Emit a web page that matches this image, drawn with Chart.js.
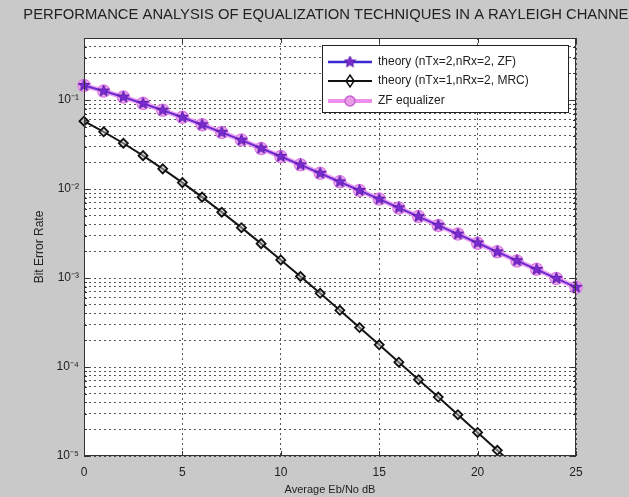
<!DOCTYPE html>
<html>
<head>
<meta charset="utf-8">
<script src="https://cdn.jsdelivr.net/npm/chart.js@4.4.1/dist/chart.umd.min.js"></script>
<style>
  html, body { margin: 0; padding: 0; background: #c9c9c9; }
  #wrap { width: 629px; height: 497px; }
</style>
</head>
<body>
<div id="wrap"><canvas id="chart1" width="629" height="497"></canvas></div>
<script>
// dados
const ebN0dB = [0, 1, 2, 3, 4, 5, 6, 7, 8, 9, 10, 11, 12, 13, 14, 15, 16, 17, 18, 19, 20, 21, 22, 23, 24, 25];
const berTheoryZF = [0.1464, 0.1267, 0.1085, 0.0919, 0.0771, 0.0642, 0.0530, 0.0435, 0.0355, 0.0288,
    0.0233, 0.01875, 0.01507, 0.01208, 0.00966, 0.00772, 0.00616, 0.00491, 0.00392, 0.00312,
    0.00248, 0.00197, 0.00157, 0.00125, 0.000992, 0.000788];
const berTheoryMRC = [0.0580, 0.0441, 0.0328, 0.0238, 0.0169, 0.01184, 0.00813, 0.00551, 0.00369, 0.00244,
    0.00160, 0.001042, 0.000674, 0.000434, 0.000278, 0.000178, 0.0001134, 0.0000721, 0.0000460, 0.0000291,
    0.0000184, 0.0000116, 0.0000074, 0.0000047, 0.0000030, 0.0000019];
const berSimZF = [0.1460, 0.1270, 0.1083, 0.0921, 0.0770, 0.0643, 0.0531, 0.0434, 0.0356, 0.0287,
    0.0233, 0.0188, 0.0151, 0.0121, 0.00965, 0.00775, 0.00614, 0.00493, 0.00391, 0.00313,
    0.00247, 0.00198, 0.00156, 0.00126, 0.00099, 0.00079];
const xTicks = [0, 5, 10, 15, 20, 25];
const yDecades = [-5, -4, -3, -2, -1];
const yMin = 1e-5;
const yMax = 0.5;
const legendLabels = ['theory (nTx=2,nRx=2, ZF)', 'theory (nTx=1,nRx=2, MRC)', 'ZF equalizer'];
const titleText = 'PERFORMANCE ANALYSIS OF EQUALIZATION TECHNIQUES IN A RAYLEIGH CHANNEL';

const sup = {'-': '\u207B', '0': '\u2070', '1': '\u00B9', '2': '\u00B2', '3': '\u00B3', '4': '\u2074', '5': '\u2075'};

// estrela (pentagrama) para o marcador
function makeStar(size, fill, stroke) {
    const c = document.createElement('canvas');
    c.width = size; c.height = size;
    const g = c.getContext('2d');
    const cx = size / 2, cy = size / 2, R = size / 2 - 0.5, r = R * 0.45;
    g.beginPath();
    for (let i = 0; i < 10; i++) {
        const a = -Math.PI / 2 + i * Math.PI / 5;
        const rad = i % 2 ? r : R;
        g.lineTo(cx + rad * Math.cos(a), cy + rad * Math.sin(a));
    }
    g.closePath();
    g.fillStyle = fill;
    g.fill();
    g.strokeStyle = stroke;
    g.lineWidth = 1;
    g.stroke();
    return c;
}
const star = makeStar(13, '#7a2bd0', '#5a1aa8');

function pts(ys) {
    return ebN0dB.map((x, i) => ({x: x, y: ys[i]}));
}

const moldura = {
    id: 'moldura',
    beforeDraw(chart) {
        const {ctx, chartArea: a} = chart;
        ctx.save();
        ctx.fillStyle = '#c9c9c9';
        ctx.fillRect(0, 0, chart.width, chart.height);
        ctx.fillStyle = '#ffffff';
        ctx.fillRect(a.left, a.top, a.right - a.left, a.bottom - a.top);
        ctx.restore();
    },
    afterDraw(chart) {
        const {ctx, chartArea: a} = chart;
        const xs = chart.scales.x, ys = chart.scales.y;
        ctx.save();
        // caixa
        ctx.strokeStyle = '#333';
        ctx.lineWidth = 1;
        ctx.strokeRect(a.left + 0.5, a.top + 0.5, a.right - a.left - 1, a.bottom - a.top - 1);
        // marcas internas
        ctx.beginPath();
        xTicks.forEach(v => {
            const px = Math.round(xs.getPixelForValue(v)) + 0.5;
            ctx.moveTo(px, a.bottom); ctx.lineTo(px, a.bottom - 5);
            ctx.moveTo(px, a.top); ctx.lineTo(px, a.top + 5);
        });
        ys.ticks.forEach(t => {
            const l = Math.log10(t.value);
            const len = Math.abs(l - Math.round(l)) < 1e-6 ? 5 : 3;
            const py = Math.round(ys.getPixelForValue(t.value)) + 0.5;
            ctx.moveTo(a.left, py); ctx.lineTo(a.left + len, py);
            ctx.moveTo(a.right, py); ctx.lineTo(a.right - len, py);
        });
        ctx.stroke();

        // titulo
        ctx.fillStyle = '#222';
        ctx.font = '14.8px "Liberation Sans", Arial, sans-serif';
        ctx.textAlign = 'center';
        ctx.textBaseline = 'middle';
        ctx.fillText(titleText, (a.left + a.right) / 2, 15);

        // legenda
        const bx = 322, by = 45, bw = 246, bh = 67;
        ctx.fillStyle = '#fff';
        ctx.fillRect(bx, by, bw, bh);
        ctx.strokeStyle = '#222';
        ctx.strokeRect(bx + 0.5, by + 0.5, bw, bh);
        ctx.font = '12px "Liberation Sans", Arial, sans-serif';
        ctx.textAlign = 'left';
        const rows = [by + 17, by + 36, by + 56];
        rows.forEach((ry, i) => {
            const x0 = bx + 6, x1 = bx + 50, xm = (x0 + x1) / 2;
            ctx.lineCap = 'butt';
            if (i === 0) {
                ctx.strokeStyle = '#3a2ad0'; ctx.lineWidth = 2.5;
                ctx.beginPath(); ctx.moveTo(x0, ry); ctx.lineTo(x1, ry); ctx.stroke();
                ctx.drawImage(star, xm - star.width / 2, ry - star.height / 2);
            } else if (i === 1) {
                ctx.strokeStyle = '#111'; ctx.lineWidth = 2;
                ctx.beginPath(); ctx.moveTo(x0, ry); ctx.lineTo(x1, ry); ctx.stroke();
                ctx.lineWidth = 1.5;
                ctx.beginPath();
                ctx.moveTo(xm, ry - 6); ctx.lineTo(xm + 4, ry); ctx.lineTo(xm, ry + 6); ctx.lineTo(xm - 4, ry);
                ctx.closePath(); ctx.stroke();
            } else {
                ctx.strokeStyle = '#ec90ec'; ctx.lineWidth = 4;
                ctx.beginPath(); ctx.moveTo(x0, ry); ctx.lineTo(x1, ry); ctx.stroke();
                ctx.fillStyle = '#e7a0e7'; ctx.strokeStyle = '#c860d0'; ctx.lineWidth = 1.5;
                ctx.beginPath(); ctx.arc(xm, ry, 5, 0, Math.PI * 2); ctx.fill(); ctx.stroke();
            }
            ctx.fillStyle = '#222';
            ctx.fillText(legendLabels[i], bx + 56, ry);
        });
        ctx.restore();
    }
};

var ctx1 = document.getElementById('chart1').getContext('2d');
var chart1 = new Chart(ctx1, {
    type: 'line',
    data: {
        datasets: [
            {
                label: legendLabels[0],
                data: pts(berTheoryZF),
                borderColor: '#6a2bd0',
                borderWidth: 2,
                pointStyle: star,
                pointRadius: 6,
                clip: 8,
                fill: false,
            },
            {
                label: legendLabels[1],
                data: pts(berTheoryMRC),
                borderColor: '#161616',
                borderWidth: 2,
                pointStyle: 'rectRot',
                pointRadius: 4.5,
                pointBorderWidth: 1.8,
                pointBorderColor: '#111',
                pointBackgroundColor: 'rgba(200,200,200,0.5)',
                clip: {left: 8, top: 8, right: 8, bottom: 0},
                fill: false,
            },
            {
                label: legendLabels[2],
                data: pts(berSimZF),
                borderColor: '#efa4ef',
                borderWidth: 5,
                pointStyle: 'circle',
                pointRadius: 6,
                pointBorderWidth: 1.5,
                pointBorderColor: '#e080e6',
                pointBackgroundColor: '#f0b4f0',
                clip: 8,
                fill: false,
            },
        ],
    },
    options: {
        responsive: false,
        animation: false,
        layout: { padding: {left: 0, right: 53, top: 38, bottom: 0} },
        plugins: {
            legend: { display: false },
            tooltip: { enabled: false },
        },
        scales: {
            x: {
                type: 'linear',
                min: 0,
                max: 25,
                afterFit: (scale) => { scale.height = 41; },
                afterBuildTicks: (scale) => { scale.ticks = xTicks.map(v => ({value: v})); },
                ticks: {
                    padding: 9,
                    color: '#222',
                    font: { size: 12, family: '"Liberation Sans", Arial, sans-serif' },
                },
                grid: { color: 'rgba(30,30,30,0.75)', lineWidth: 1, drawTicks: false },
                border: { display: false, dash: [2, 3] },
                title: {
                    display: true,
                    text: 'Average Eb/No dB',
                    color: '#222',
                    padding: {top: 0, bottom: 0},
                    font: { size: 11, family: '"Liberation Sans", Arial, sans-serif' },
                },
            },
            y: {
                type: 'logarithmic',
                min: yMin,
                max: yMax,
                bounds: 'data',
                afterFit: (scale) => { scale.width = 84; },
                afterBuildTicks: (scale) => {
                    const t = [];
                    yDecades.forEach(e => {
                        for (let m = 1; m <= 9; m++) {
                            const v = m * Math.pow(10, e);
                            if (v <= yMax * 1.0001) t.push({value: v});
                        }
                    });
                    scale.ticks = t;
                },
                ticks: {
                    autoSkip: false,
                    padding: 5,
                    color: '#222',
                    font: { size: 12, family: '"Liberation Sans", Arial, sans-serif' },
                    callback: (v) => {
                        const l = Math.log10(v);
                        if (Math.abs(l - Math.round(l)) > 1e-6) return '';
                        return '10' + String(Math.round(l)).split('').map(c => sup[c]).join('');
                    },
                },
                grid: { color: 'rgba(30,30,30,0.75)', lineWidth: 1, drawTicks: false },
                border: { display: false, dash: [2, 3] },
                title: {
                    display: true,
                    text: 'Bit Error Rate',
                    color: '#222',
                    padding: {top: 32, bottom: 0},
                    font: { size: 12, family: '"Liberation Sans", Arial, sans-serif' },
                },
            },
        },
    },
    plugins: [moldura],
});
</script>
</body>
</html>
